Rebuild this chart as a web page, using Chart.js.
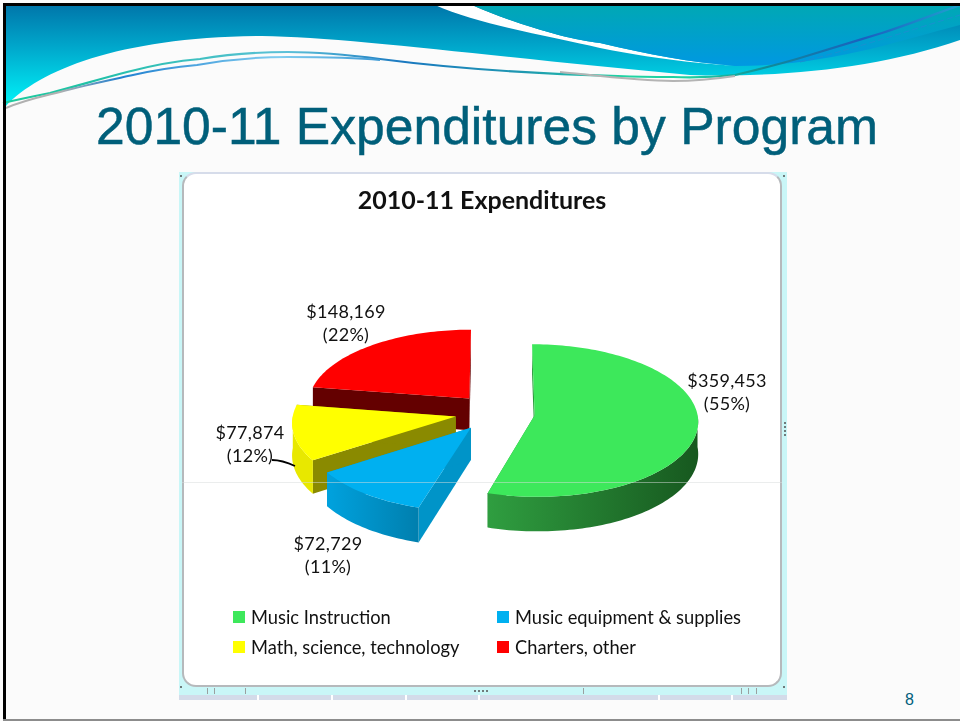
<!DOCTYPE html>
<html><head><meta charset="utf-8">
<style>
html,body{margin:0;padding:0;background:#fbfbfb;overflow:hidden}
#slide{position:relative;width:960px;height:721px;overflow:hidden;font-family:Lato,sans-serif}
#deco{position:absolute;left:0;top:0}
#t{position:absolute;left:0;width:974px;text-align:center;top:95px;font:51.6px/62px "Liberation Sans",Arial,sans-serif;color:#005f7a;margin:0;font-weight:normal;-webkit-text-stroke:.5px #005f7a}
#frame{position:absolute;left:179px;top:172px;width:608px;height:523px;background:#c9f6f7}
#strip{position:absolute;left:179px;top:695px;width:608px;height:5px;background:#d3dbe9}
#panel{position:absolute;left:182px;top:172px;width:596px;height:511px;background:#fff;border:2px solid #b6b9bc;border-top-color:#d6dcea;border-radius:14px}
#cv{position:absolute;left:182px;top:173px;width:600px;height:514px}
#legend{position:absolute;left:233px;top:602px;width:530px;display:grid;grid-template-columns:264px 250px;grid-auto-rows:30px;font-size:18.3px;color:#111}
#legend div{display:flex;align-items:center;white-space:nowrap}
#legend i{display:block;width:12px;height:12px;margin-right:6px}
#pg{position:absolute;left:905px;top:691px;font:16px "Liberation Sans",Arial,sans-serif;color:#00607c}
#bl{position:absolute;left:3px;top:3px;width:3px;height:717px;background:#000}
#bt{position:absolute;left:3px;top:3px;width:957px;height:3px;background:#000}
#bb{position:absolute;left:3px;top:719px;width:957px;height:2px;background:#8c8c8c}
#hl{position:absolute;left:182px;top:482px;width:600px;height:1px;background:rgba(215,220,220,.5)}
.tk{position:absolute;width:1px;background:#9aa0a0;top:688px;height:6px}
.wt{position:absolute;width:1.5px;background:#fff;top:695px;height:5px}
.dt{position:absolute;width:2px;height:2px;background:#6f7a7a}
</style></head><body>
<div id="slide">
<svg id="deco" width="960" height="115" viewBox="0 0 960 115">
<defs>
<linearGradient id="g1" gradientUnits="userSpaceOnUse" x1="0" y1="5" x2="0" y2="100"><stop offset="0" stop-color="#0076aa"/><stop offset=".45" stop-color="#00a8cc"/><stop offset="1" stop-color="#00ecf4"/></linearGradient>
<linearGradient id="g2" gradientUnits="userSpaceOnUse" x1="0" y1="5" x2="0" y2="66"><stop offset="0" stop-color="#00a8b4"/><stop offset="1" stop-color="#0098e2"/></linearGradient>
<linearGradient id="g3" gradientUnits="userSpaceOnUse" x1="0" y1="0" x2="960" y2="0">
<stop offset="0" stop-color="#20cc9c"/><stop offset=".1" stop-color="#20c0a8"/><stop offset=".3" stop-color="#5cc0d8"/><stop offset=".42" stop-color="#1a78c0"/><stop offset=".55" stop-color="#1f9ab0"/><stop offset=".65" stop-color="#20d4a4"/><stop offset=".72" stop-color="#20d0a0"/><stop offset=".8" stop-color="#108a98"/><stop offset=".9" stop-color="#1a60c0"/><stop offset="1" stop-color="#20a0d0"/></linearGradient>
<linearGradient id="g4" gradientUnits="userSpaceOnUse" x1="0" y1="0" x2="400" y2="0"><stop offset="0" stop-color="#b0b0b0"/><stop offset=".15" stop-color="#b0b0b0"/><stop offset=".3" stop-color="#2080d0"/><stop offset=".7" stop-color="#80cdf0"/><stop offset="1" stop-color="#3090d0"/></linearGradient>
</defs>
<path d="M6 106 C40 70 120 37 262 36 C350 37 520 60 690 75 C780 78 880 68 960 40 L960 5 L6 5 Z" fill="url(#g1)"/>
<path d="M435 5 L472 5 C515 24 570 40 600 43 C650 55 690 62 735 66 L700 63 C660 59 630 54 600 48 C550 36 480 25 435 5 Z" fill="#fff"/>
<path d="M472 5 L960 5 L960 25 C900 40 830 66 735 66 C690 62 650 55 600 43 C570 40 515 24 472 5 Z" fill="url(#g2)"/>
<path d="M3 103 C20 99 35 96 50 93 C80 85 100 79 127 72 C150 66 175 61 200 59 C230 54 260 52 288 52 C320 52 350 55 380 59 C450 68 540 74 618 76 C640 77 655 77 673 77 C695 78 715 77 735 75 C760 69 780 64 800 58 C830 49 855 41 882 33 C910 24 935 14 960 5" fill="none" stroke="url(#g3)" stroke-width="2.2"/>
<path d="M6 108 C25 100 40 97 60 92 C85 85 110 80 133 75 C155 70 175 67 197 65 C225 60 255 57 288 57 C320 57 350 57 380 60" fill="none" stroke="url(#g4)" stroke-width="2"/>
<path d="M560 72 C600 76 640 81 673 81 C695 81 715 79 735 76" fill="none" stroke="#b4b4b4" stroke-width="2"/>
<path d="M800 62 C850 50 905 32 960 15" fill="none" stroke="#1a90d0" stroke-width="1" stroke-dasharray="6 3"/>
</svg>
<h1 id="t">2010-11 Expenditures by Program</h1>
<div id="frame"></div><div id="strip"></div><div id="panel"></div>
<canvas id="cv" width="600" height="514"></canvas>
<div id="hl"></div>
<div id="legend"></div>
<div id="pg">8</div>
<div id="bl"></div><div id="bt"></div><div id="bb"></div>
<div id="chrome"></div>
</div>
<script src="https://cdn.jsdelivr.net/npm/chart.js@4"></script>
<script>
const categories = ["Music Instruction","Music equipment & supplies","Math, science, technology","Charters, other"];
const expenditures = [359453,72729,77874,148169];
const percentLabels = ["(55%)","(11%)","(12%)","(22%)"];
const topColors = ["#3de85b","#00b0f0","#ffff00","#ff0000"];
const cutColors = ["#2a9a3c","#0094c8","#8a8a00","#640000"];
const wallStart = ["#2f9e40","#00a2de","#e8e800","#640000"];
const wallEnd   = ["#17581f","#007fae","#e8e800","#640000"];
const labelSpots = [[545,220],[146,383],[68,272],[164,151]]; // label centres within the chart canvas

const KEEP = {tilt:0.465, persp:0.07, depth:32, stretch:1.0, shiftX:13, shiftY:8};

function project(arc, X, Y){            // X,Y in chart px relative to pie centre
  const R = arc.outerRadius, y = Y/R, s = 1/(1-KEEP.persp*y);
  return [arc.x + KEEP.shiftX + X*KEEP.stretch*s, arc.y + KEEP.shiftY + Y*KEEP.tilt*s, s];
}
function rimPoint(arc, off, a){
  const mid=(arc.startAngle+arc.endAngle)/2;
  return project(arc, Math.cos(mid)*off+Math.cos(a)*arc.outerRadius, Math.sin(mid)*off+Math.sin(a)*arc.outerRadius);
}
function apexPoint(arc, off){
  const mid=(arc.startAngle+arc.endAngle)/2;
  return project(arc, Math.cos(mid)*off, Math.sin(mid)*off);
}
const pie3d = {
  id:'pie3d',
  beforeDatasetDraw(chart,args){
    const ctx=chart.ctx, arcs=args.meta.data;
    const order=[3,2,1,0];
    order.forEach(i=>{
      const arc=arcs[i], off=arc.options.offset, st=arc.startAngle, en=arc.endAngle;
      const steps=Math.max(16,Math.ceil((en-st)*40));
      const pts=[]; for(let k=0;k<=steps;k++) pts.push(rimPoint(arc,off,st+(en-st)*k/steps));
      const ap=apexPoint(arc,off);
      const dz=p=>KEEP.depth*p[2];
      [pts[0],pts[pts.length-1]].forEach(p=>{
        ctx.beginPath();ctx.moveTo(ap[0],ap[1]);ctx.lineTo(p[0],p[1]);
        ctx.lineTo(p[0],p[1]+dz(p));ctx.lineTo(ap[0],ap[1]+dz(ap));ctx.closePath();
        ctx.fillStyle=cutColors[i];ctx.fill();
      });
      const xs=pts.map(p=>p[0]);const gx0=Math.min(...xs),gx1=Math.max(...xs);
      const g=ctx.createLinearGradient(gx0,0,gx1,0);
      g.addColorStop(0,wallStart[i]);g.addColorStop(1,wallEnd[i]);
      const front=pts.filter((p,k)=>Math.sin(st+(en-st)*k/steps)>-0.02);
      if(front.length>1){
        ctx.beginPath();front.forEach((p,k)=>k?ctx.lineTo(p[0],p[1]):ctx.moveTo(p[0],p[1]));
        for(let k=front.length-1;k>=0;k--)ctx.lineTo(front[k][0],front[k][1]+dz(front[k]));
        ctx.closePath();ctx.fillStyle=g;ctx.fill();
      }
      ctx.beginPath();ctx.moveTo(ap[0],ap[1]);pts.forEach(p=>ctx.lineTo(p[0],p[1]));ctx.closePath();
      ctx.fillStyle=topColors[i];ctx.fill();
    });
    return false;
  },
  afterDatasetsDraw(chart){
    const ctx=chart.ctx, data=chart.data.datasets[0].data;
    ctx.save();ctx.font='18px Lato, sans-serif';ctx.fillStyle='#111';ctx.textAlign='center';ctx.textBaseline='middle';
    ctx.letterSpacing='0.3px';
    data.forEach((v,i)=>{
      const [x,y]=labelSpots[i];
      ctx.fillText('$'+v.toLocaleString('en-US'),x,y-12);
      ctx.fillText(percentLabels[i],x,y+11);
    });
    ctx.restore();
    ctx.save();ctx.strokeStyle='#000';ctx.lineWidth=1.8;ctx.beginPath();
    ctx.moveTo(90,287);ctx.quadraticCurveTo(100,287,113,293);ctx.stroke();ctx.restore();
  }
};
const chart=new Chart(document.getElementById('cv'),{
  type:'pie',
  data:{labels:categories,datasets:[{data:expenditures,backgroundColor:topColors,offset:40,borderWidth:0}]},
  options:{
    responsive:false,animation:false,rotation:0,
    layout:{padding:{left:0,top:0,right:0,bottom:100}},
    plugins:{
      legend:{display:false},tooltip:{enabled:false},
      title:{display:true,text:'2010-11 Expenditures',color:'#111',font:{family:'Lato, sans-serif',size:25,weight:'bold'},padding:{top:13,bottom:6}}
    }
  },
  plugins:[pie3d]
});
const lg=document.getElementById('legend');
categories.forEach((c,i)=>{const d=document.createElement('div');const s=document.createElement('i');s.style.background=topColors[i];d.appendChild(s);d.appendChild(document.createTextNode(c));lg.appendChild(d);});
const ch=document.getElementById('chrome');
const add=(cls,x,y)=>{const e=document.createElement('div');e.className=cls;e.style.left=x+'px';if(y!==undefined)e.style.top=y+'px';ch.appendChild(e);};
[207,214,245,583,741,748,756].forEach(x=>add('tk',x));
[257,331,405,478,658,731].forEach(x=>add('wt',x));
[474,478,482,486].forEach(x=>add('dt',x,690));
[422,426,430,434].forEach(y=>add('dt',784,y));
[180,783].forEach(x=>{add('dt',x,175);add('dt',x,686);});
</script>
</body></html>
